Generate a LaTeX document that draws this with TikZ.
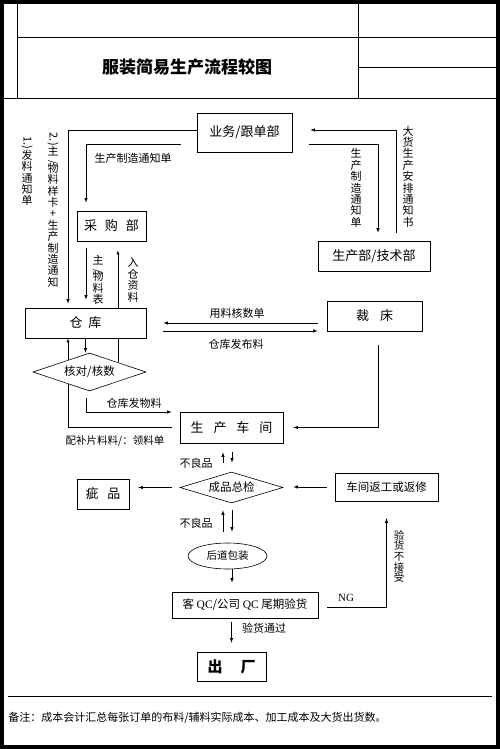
\documentclass[tikz,border=0pt]{standalone}
\usepackage{fontspec}
\setmainfont{Noto Sans CJK SC}
\newfontfamily\latinfont{Liberation Serif}
\usetikzlibrary{shapes.geometric,backgrounds}

\begin{document}
\begin{tikzpicture}[>=latex,x=1pt,y=-1pt,semithick,
    box/.style={draw,fill=white,inner sep=0pt,font=\fontsize{13}{13}\selectfont},
    check/.style={draw,fill=white,diamond,aspect=3.2,inner sep=0pt,font=\fontsize{11.5}{11.5}\selectfont},
    lbl/.style={inner sep=0pt,font=\fontsize{11}{11}\selectfont},
    vlbl/.style={inner sep=0pt,align=center,font=\fontsize{11}{11.4}\selectfont}]
    \useasboundingbox (0,0) rectangle (500,749);
    % frame and header
    \draw [line width=4pt] (2,2) rectangle (498,747);
    \draw (17,2) -- (17,98);
    \draw (17,37) -- (498,37);
    \draw [thick] (2,98) -- (498,98);
    \draw (358,2) -- (358,98);
    \draw (358,67) -- (498,67);
    \draw (8,696) -- (492,696);
    \node [font=\bfseries\fontsize{17}{17}\selectfont] (Title) at (187,67) {服装简易生产流程较图};
    \node [lbl,anchor=west] (Note) at (8,718) {备注：成本会计汇总每张订单的布料/辅料实际成本、加工成本及大货出货数。};
    % steps
    \node [box,minimum width=95pt,minimum height=39pt] (Sales) at (244.5,132.5) {业务/跟单部};
    \node [box,minimum width=69pt,minimum height=30pt] (Purchase) at (111.5,226) {采\hspace{8pt}购\hspace{8pt}部};
    \node [box,minimum width=121pt,minimum height=30pt] (Store) at (85.5,323) {仓\hspace{6pt}库};
    \node [box,minimum width=112pt,minimum height=30pt] (Tech) at (374,256) {生产部/技术部};
    \node [box,minimum width=95pt,minimum height=30pt] (Cut) at (374.5,316) {裁\hspace{11pt}床};
    \node [check,minimum width=113pt,minimum height=38pt] (Count) at (89.5,372) {核对/核数};
    \node [box,minimum width=103pt,minimum height=31pt] (Workshop) at (231.5,427.5) {生\hspace{10pt}产\hspace{10pt}车\hspace{10pt}间};
    \node [box,minimum width=52pt,minimum height=30pt] (Defect) at (103,494) {疵\hspace{9pt}品};
    \node [check,minimum width=103pt,minimum height=31pt] (Final) at (231.5,487.5) {成品总检};
    \node [box,minimum width=103pt,minimum height=28pt,font=\fontsize{11.5}{11.5}\selectfont] (Rework) at (386.5,487) {车间返工或返修};
    \node [draw,fill=white,ellipse,inner sep=0pt,minimum width=79pt,minimum height=26pt,font=\fontsize{10.5}{10.5}\selectfont] (Pack) at (227.5,556) {后道包装};
    \node [box,minimum width=146pt,minimum height=26pt,font=\fontsize{11.5}{11.5}\selectfont] (QC) at (245,605) {客 {\latinfont QC}/公司 {\latinfont QC} 尾期验货};
    \node [box,minimum width=69pt,minimum height=29pt,font=\bfseries\fontsize{15}{15}\selectfont] (Exit) at (231.5,666.5) {出\hspace{18pt}厂};
    % lines running behind boxes
    \begin{scope}[on background layer]
        \draw [->,shorten >=9pt] (Count.north east) -- (Count.north east |- Purchase.south);
        \draw [->,shorten <=8pt] (Workshop.west) -| ([xshift=-17.5pt]Store.south);
    \end{scope}
    % connectors
    \draw [->,shorten >=4pt] ([yshift=2.5pt]Sales.west) -| ([xshift=-17.5pt]Store.north);
    \draw [->,shorten <=16pt,shorten >=8pt] ([yshift=-11.5pt]Sales.west) -| ([xshift=-25.5pt]Purchase.north);
    \draw [->,shorten <=8pt,shorten >=18pt] ([xshift=22pt]Tech.north) |- ([yshift=2.5pt]Sales.east);
    \draw [->,shorten <=17pt,shorten >=8pt] ([yshift=-11.5pt]Sales.east) -| ([xshift=4pt]Tech.north);
    \draw [->,shorten <=7pt,shorten >=8pt] ([xshift=-25.5pt]Purchase.south) -- ([xshift=-25.5pt]Purchase.south |- Store.north);
    \draw [->] (Store.south) -- (Store.south |- Count.north);
    \draw [->,shorten <=7pt,shorten >=8pt] ([xshift=-3.5pt]Count.south) |- ([yshift=15.5pt]Workshop.west);
    \draw [->,shorten <=9pt,shorten >=17pt] ([yshift=-7pt]Cut.west) -- (Store.east);
    \draw [->,shorten <=17pt,shorten >=9pt] ([yshift=-8pt]Store.east) -- ([yshift=-15pt]Cut.west);
    \draw [->,shorten <=14pt,shorten >=10pt] ([xshift=3.5pt]Cut.south) |- (Workshop.east);
    \draw [->,shorten <=9pt,shorten >=9pt] ([xshift=-8.5pt]Final.north) -- ([xshift=-8.5pt]Workshop.south);
    \draw [->,shorten <=9pt,shorten >=9pt] ([xshift=0.5pt]Workshop.south) -- ([xshift=0.5pt]Final.north);
    \draw [->,shorten <=8pt,shorten >=9pt] (Final.west) -- (Final.west -| Defect.east);
    \draw [->,shorten <=8pt,shorten >=10pt] (Rework.west) -- (Rework.west -| Final.east);
    \draw [->,shorten <=11pt,shorten >=7pt] ([xshift=-8.5pt]Final.south |- Pack.north) -- ([xshift=-8.5pt]Final.south);
    \draw [->,shorten <=7pt,shorten >=11pt] ([xshift=0.5pt]Final.south) -- ([xshift=0.5pt]Final.south |- Pack.north);
    \draw [->,shorten >=9pt] ([xshift=0.5pt]Final.south |- Pack.south) -- ([xshift=0.5pt]Final.south |- QC.north);
    \draw [->,shorten <=4pt,shorten >=9pt] (QC.south -| Exit.north) -- (Exit.north);
    \draw [->,shorten <=9pt,shorten >=17pt] ([yshift=-2pt]QC.east) -| (Rework.south);
    % labels
    \node [vlbl] (NoteA) at (27,171) {\rotatebox{-90}{1.)}\\发\\料\\通\\知\\单};
    \node [vlbl] (NoteB) at (53,210) {\rotatebox{-90}{2.)}\\主\\[-4pt]\raisebox{3pt}{\rotatebox{-90}{\fontsize{10}{10}\selectfont/}}\\[-2.5pt]物\\料\\样\\卡\\+\\生\\产\\制\\造\\通\\知};
    \node [lbl] (L1) at (133,158) {生产制造通知单};
    \node [vlbl] (L2) at (356,188) {生\\产\\制\\造\\通\\知\\单};
    \node [vlbl] (L3) at (408,176.5) {大\\货\\生\\产\\安\\排\\通\\知\\书};
    \node [vlbl] (L4) at (98,280) {主\\[-4pt]\raisebox{3pt}{\rotatebox{-90}{\fontsize{10}{10}\selectfont/}}\\[-2.5pt]物\\料\\表};
    \node [vlbl] (L5) at (133,280) {入\\仓\\资\\料};
    \node [lbl] (L6) at (237,313) {用料核数单};
    \node [lbl] (L7) at (236,344) {仓库发布料};
    \node [lbl] (L8) at (134,403) {仓库发物料};
    \node [lbl,font=\fontsize{10.5}{10.5}\selectfont] (L9) at (115,441) {配补片料料/：领料单};
    \node [lbl] (L10) at (196,463) {不良品};
    \node [lbl] (L11) at (196,523) {不良品};
    \node [lbl] (L12) at (264,628) {验货通过};
    \node [lbl,font=\latinfont\fontsize{11}{11}\selectfont] (L13) at (346,598) {NG};
    \node [vlbl,font=\fontsize{10.5}{10.6}\selectfont] (L14) at (399,556.5) {验\\货\\不\\接\\受};
\end{tikzpicture}
\end{document}
